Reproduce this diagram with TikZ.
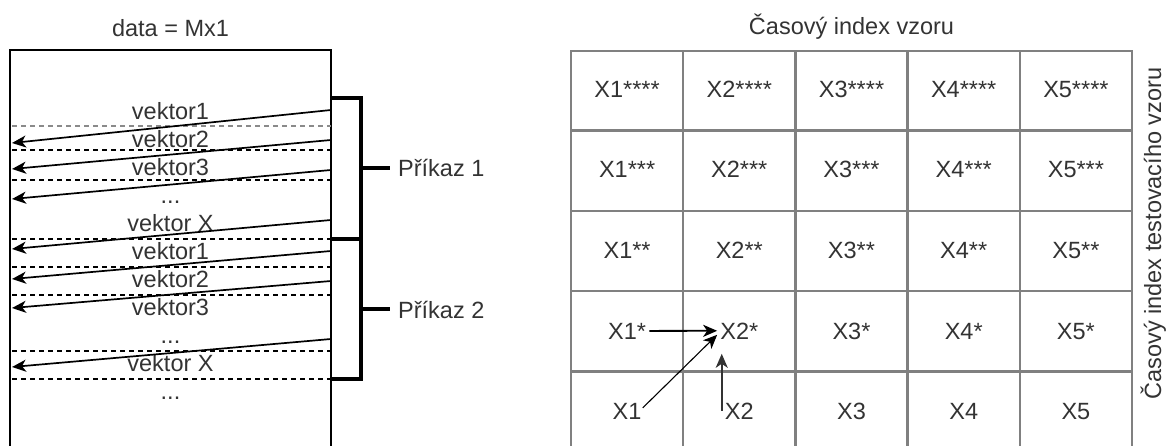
\documentclass[tikz,border=0pt]{standalone}
\usepackage{fontspec}
\setmainfont{Liberation Sans}
\usetikzlibrary{arrows.meta}
\definecolor{txt}{HTML}{333333}
\definecolor{gridc}{HTML}{808080}
\definecolor{sepg}{HTML}{8A8A8A}
\newcommand{\tdots}{...}
\begin{document}
\begin{tikzpicture}[x=1pt,y=-1pt,
  lbl/.style={font=\fontsize{23.5}{28}\selectfont, text=txt, inner sep=0pt, anchor=base},
  cell/.style={lbl, inner sep=3pt},
  tip/.style={-{Stealth[length=14pt,width=12pt,inset=4pt]}},
  vec/.style={line width=1.7pt, tip},
  garr/.style={line width=1.8pt, tip},
  thinarr/.style={line width=1.1pt, tip},
  sepline/.style={dash pattern=on 5pt off 4pt, line width=1.6pt},
  brk/.style={line width=3.2pt},
  gl/.style={gridc, line width=2.4pt},
]
\useasboundingbox (0,0) rectangle (1169,446);
% ---------- left part ----------
\node[lbl] (title1) at (170.5,37) {data = Mx1};
\draw[line width=1.9pt] (10,446) -- (10,50) -- (331,50) -- (331,446);
% separators
\draw[sepline, sepg] (12,126) -- (331,126);
\foreach \y in {150,180,239,267,295,351,379}
  \draw[sepline] (12,\y) -- (331,\y);
% labels
\foreach \i/\t in {0/vektor1,1/vektor2,2/vektor3,3/\tdots,4/vektor X,5/vektor1,6/vektor2,7/vektor3,8/\tdots,9/vektor X,10/\tdots}
  \node[lbl] (v\i) at (170.5,{120+27.9*\i}) {\t};
% arrows
\foreach \i/\ys/\ye in {1/110/143, 2/140/169, 3/170/199, 4/220/249, 5/251/279, 6/281/308, 7/339/367} {
  \coordinate (s\i) at (331,\ys);
  \coordinate (e\i) at (12,\ye);
  \draw[vec] (s\i) -- (e\i);
}
% brackets
\draw[brk] (331,98) -- (361,98) -- (361,379) -- (331,379);
\draw[brk] (331,239) -- (361,239);
\node[lbl, anchor=base west] (p1) at (398,177) {Příkaz 1};
\node[lbl, anchor=base west] (p2) at (398,318) {Příkaz 2};
\coordinate (b1) at (361,168);
\coordinate (b2) at (361,309);
\draw[brk] (b1) -- (390,168);
\draw[brk] (b2) -- (390,309);
% ---------- right part ----------
\node[lbl] (title2) at (851.5,35) {Časový index vzoru};
\foreach \x in {683.2,795.4,907.6,1019.8}
  \draw[gl] (\x,51) -- (\x,446);
\foreach \y in {130.5,211,291,371.5}
  \draw[gl] (571,\y) -- (1132,\y);
\draw[gl] (571,446) -- (571,51) -- (1132,51) -- (1132,446);
\foreach \c in {1,2,3,4,5}
  \foreach \r/\s/\yb in {1/****/98, 2/***/178, 3/**/258.5, 4/*/339, 5//419}
    \node[cell] (g\r\c) at ({571+112.2*(\c-0.5)},\yb) {X\c\s};
\node[lbl, rotate=90] (vt) at (1161,233.5) {Časový index testovacího vzoru};
% grid arrows
\draw[garr] (g41.east) -- (g42.west);
\coordinate (t2) at ([yshift=-4pt]g42.west);
\draw[thinarr] ([xshift=-2pt,yshift=3pt]g51.east) -- (t2);
\draw[garr, black!80] (g52.west) -- ++(0,-57);
\end{tikzpicture}
\end{document}
